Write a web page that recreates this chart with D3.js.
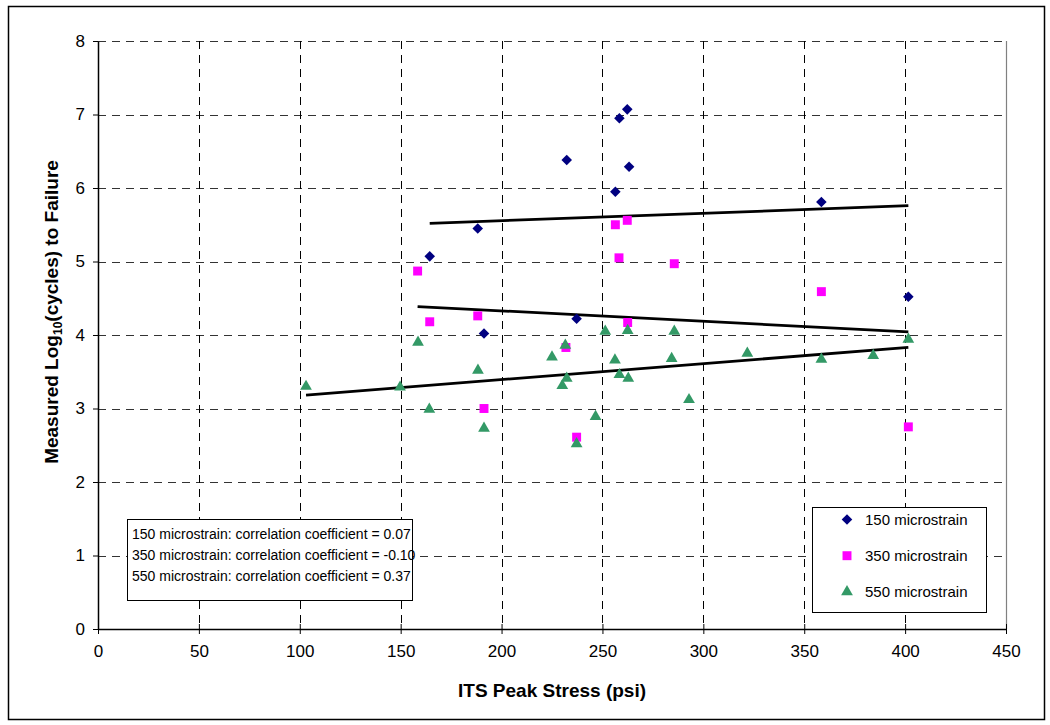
<!DOCTYPE html>
<html>
<head>
<meta charset="utf-8">
<script src="https://cdn.jsdelivr.net/npm/d3@7.9.0/dist/d3.min.js"></script>
<style>
  body { margin: 0; background: #fff; }
  svg { font-family: "Liberation Sans", Arial, sans-serif; }
</style>
</head>
<body>
<svg id="chart" width="1050" height="725"></svg>
<script>
// ITS peak stress (psi) and measured log10 cycles, one pair of arrays per strain level
const stress150 = [164.4, 188.2, 191.3, 232.3, 237.2, 256.4, 258.4, 262.3, 263.2, 358.5, 401.6];
const cycles150 = [5.07, 5.45, 4.02, 6.38, 4.22, 5.95, 6.95, 7.07, 6.29, 5.81, 4.52];

const stress350 = [158.4, 164.4, 188.2, 191.3, 231.9, 237.2, 256.4, 258.2, 262.3, 262.5, 285.6, 358.5, 401.6];
const cycles350 = [4.87, 4.18, 4.26, 3.00, 3.83, 2.61, 5.50, 5.05, 5.56, 4.17, 4.97, 4.59, 2.75];

const stress550 = [103.1, 149.7, 158.6, 164.2, 188.3, 191.3, 225.0, 230.1, 231.6, 232.3, 237.2, 246.6,
                   251.4, 256.2, 258.4, 262.5, 262.8, 284.3, 285.6, 292.9, 321.8, 358.5, 384.2, 401.6];
const cycles550 = [3.30, 3.29, 3.90, 2.99, 3.52, 2.73, 3.70, 3.31, 3.86, 3.41, 2.52, 2.89,
                   4.05, 3.66, 3.46, 4.06, 3.41, 3.68, 4.05, 3.12, 3.75, 3.67, 3.72, 3.94];

const seriesNames = ['150 microstrain', '350 microstrain', '550 microstrain'];
const correlations = ['0.07', '-0.10', '0.37'];
const xTicks = [0, 50, 100, 150, 200, 250, 300, 350, 400, 450];
const yTicks = [0, 1, 2, 3, 4, 5, 6, 7, 8];

const series = [
  { name: seriesNames[0], xs: stress150, ys: cycles150, color: '#000080', shape: 'diamond' },
  { name: seriesNames[1], xs: stress350, ys: cycles350, color: '#FF00FF', shape: 'square' },
  { name: seriesNames[2], xs: stress550, ys: cycles550, color: '#339966', shape: 'triangle' },
];

const svg = d3.select('#chart');
const pLeft = 98, pRight = 1006, pTop = 41, pBottom = 629;

const x = d3.scaleLinear().domain([0, 450]).range([pLeft, pRight]);
const y = d3.scaleLinear().domain([0, 8]).range([pBottom, pTop]);

// outer chart frame
svg.append('rect')
  .attr('x', 8.5).attr('y', 6.5).attr('width', 1036).attr('height', 713)
  .attr('fill', '#fff').attr('stroke', '#000').attr('stroke-width', 1.5);

// gridlines
const grid = svg.append('g');
grid.selectAll('.hg').data(yTicks.filter(d => d > 0)).join('line')
  .attr('x1', pLeft).attr('x2', pRight)
  .attr('y1', d => Math.round(y(d)) + 0.5).attr('y2', d => Math.round(y(d)) + 0.5)
  .attr('stroke', '#333').attr('stroke-dasharray', '8,6');
grid.selectAll('.vg').data(xTicks.filter(d => d > 0 && d < 450)).join('line')
  .attr('y1', pTop).attr('y2', pBottom)
  .attr('x1', d => Math.round(x(d)) + 0.5).attr('x2', d => Math.round(x(d)) + 0.5)
  .attr('stroke', '#000').attr('stroke-dasharray', '8,6');

// right border of plot area
svg.append('line')
  .attr('x1', pRight + 0.5).attr('x2', pRight + 0.5).attr('y1', pTop).attr('y2', pBottom)
  .attr('stroke', '#808080').attr('stroke-width', 1.2);

// axes
const xAxis = d3.axisBottom(x).tickValues(xTicks).tickSize(5).tickSizeOuter(0).tickPadding(0).tickFormat(d3.format('d'));
const gx = svg.append('g').attr('transform', `translate(0,${pBottom})`).call(xAxis);
gx.select('.domain').attr('stroke', '#000').attr('stroke-width', 1.5);
gx.selectAll('.tick line').attr('y1', -5).attr('y2', 5);
gx.selectAll('.tick text').attr('y', 28).attr('dy', 0).attr('font-size', 17).attr('fill', '#000')
  .attr('font-family', '"Liberation Sans", Arial, sans-serif');

const yAxis = d3.axisLeft(y).tickValues(yTicks).tickSize(5).tickSizeOuter(0).tickFormat(d3.format('d'));
const gy = svg.append('g').attr('transform', `translate(${pLeft},0)`).call(yAxis);
gy.select('.domain').attr('stroke', '#000').attr('stroke-width', 1.5);
gy.selectAll('.tick line').attr('x1', -5).attr('x2', 0);
gy.selectAll('.tick text').attr('x', -13).attr('font-size', 17).attr('fill', '#000')
  .attr('font-family', '"Liberation Sans", Arial, sans-serif');

// axis titles
svg.append('text')
  .attr('x', (pLeft + pRight) / 2).attr('y', 697)
  .attr('text-anchor', 'middle').attr('font-weight', 'bold').attr('font-size', 19)
  .text('ITS Peak Stress (psi)');

const yTitle = svg.append('text')
  .attr('transform', 'translate(58,312) rotate(-90)')
  .attr('text-anchor', 'middle').attr('font-weight', 'bold').attr('font-size', 19);
yTitle.append('tspan').text('Measured Log');
yTitle.append('tspan').attr('font-size', 12).attr('dy', 4).text('10');
yTitle.append('tspan').attr('dy', -4).text('(cycles) to Failure');

// trend lines (least squares over each series' x range)
function fit(xs, ys) {
  const mx = d3.mean(xs), my = d3.mean(ys);
  const sxy = d3.sum(xs, (v, i) => (v - mx) * (ys[i] - my));
  const sxx = d3.sum(xs, v => (v - mx) * (v - mx));
  const b = sxy / sxx;
  return v => my + b * (v - mx);
}
const line = d3.line().x(d => x(d[0])).y(d => y(d[1]));
series.forEach(s => {
  const f = fit(s.xs, s.ys);
  const [x0, x1] = d3.extent(s.xs);
  svg.append('path')
    .attr('d', line([[x0, f(x0)], [x1, f(x1)]]))
    .attr('stroke', '#000').attr('stroke-width', 2.8).attr('fill', 'none');
});

// markers
function marker(shape) {
  if (shape === 'diamond') return d3.symbol(d3.symbolSquare, 56)();
  if (shape === 'square') return d3.symbol(d3.symbolSquare, 80)();
  return d3.symbol(d3.symbolTriangle, 60)();
}
function rot(shape) { return shape === 'diamond' ? ' rotate(45)' : ''; }

series.forEach(s => {
  svg.append('g').selectAll('path').data(s.xs.map((v, i) => [v, s.ys[i]])).join('path')
    .attr('d', marker(s.shape))
    .attr('transform', d => `translate(${x(d[0])},${y(d[1])})${rot(s.shape)}`)
    .attr('fill', s.color);
});

// correlation note
svg.append('rect')
  .attr('x', 127.5).attr('y', 519.5).attr('width', 285).attr('height', 81)
  .attr('fill', '#fff').attr('stroke', '#000').attr('stroke-width', 1);
svg.append('g').selectAll('text').data(seriesNames).join('text')
  .attr('x', 132).attr('y', (d, i) => 539 + i * 21)
  .attr('font-size', 14)
  .text((d, i) => `${d}: correlation coefficient = ${correlations[i]}`);

// legend
svg.append('rect')
  .attr('x', 812.5).attr('y', 507.5).attr('width', 174).attr('height', 105)
  .attr('fill', '#fff').attr('stroke', '#000').attr('stroke-width', 1);
const lg = svg.append('g').selectAll('g').data(series).join('g')
  .attr('transform', (d, i) => `translate(847,${519.5 + i * 36.2})`);
lg.append('path')
  .attr('d', d => marker(d.shape))
  .attr('transform', d => rot(d.shape).trim())
  .attr('fill', d => d.color);
lg.append('text').attr('x', 18).attr('y', 5.5).attr('font-size', 15).text(d => d.name);
</script>
</body>
</html>
